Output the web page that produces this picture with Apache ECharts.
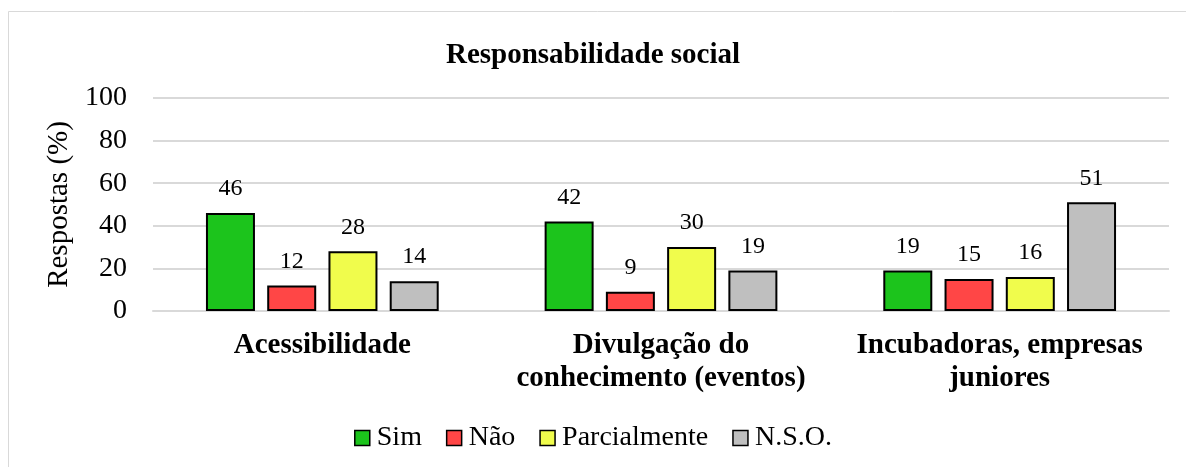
<!DOCTYPE html>
<html>
<head>
<meta charset="utf-8">
<script src="https://cdn.jsdelivr.net/npm/echarts@6/dist/echarts.min.js"></script>
<style>
  html, body { margin: 0; padding: 0; background: #fff; }
  #main { width: 1186px; height: 467px; }
</style>
</head>
<body>
<div id="main"></div>
<script>
var categories = ['Acessibilidade', 'Divulgação do\nconhecimento (eventos)', 'Incubadoras, empresas\njuniores'];
var seriesNames = ['Sim', 'Não', 'Parcialmente', 'N.S.O.'];
var sim = [46, 42, 19];
var nao = [12, 9, 15];
var parcial = [28, 30, 16];
var nso = [14, 19, 51];
var colors = ['#1cc41c', '#ff4646', '#f0fc4c', '#bfbfbf'];

var font = 'Liberation Serif, Times New Roman, serif';
var chart = echarts.init(document.getElementById('main'));

function bar(name, data, color) {
  return {
    name: name,
    type: 'bar',
    data: data,
    barWidth: 49,
    barGap: '25%',
    itemStyle: { color: color, borderColor: '#000', borderWidth: 2 },
    label: {
      show: true,
      position: 'top',
      distance: 12,
      color: '#000',
      fontFamily: font,
      fontSize: 24
    }
  };
}

var option = {
  animation: false,
  backgroundColor: '#fff',
  graphic: [{
    type: 'rect',
    shape: { x: 8.5, y: 11.5, width: 1200, height: 480 },
    style: { fill: 'none', stroke: '#d9d9d9', lineWidth: 1 }
  }],
  title: {
    text: 'Responsabilidade social',
    left: 'center',
    top: 36,
    textStyle: { fontFamily: font, fontSize: 29, fontWeight: 'bold', color: '#000' }
  },
  legend: {
    bottom: 10,
    left: 'center',
    itemWidth: 15,
    itemHeight: 15,
    itemGap: 24,
    icon: 'rect',
    textStyle: { fontFamily: font, fontSize: 28, color: '#000', padding: [0, 0, 0, 2] },
    itemStyle: { borderColor: '#000', borderWidth: 1.5 },
    data: seriesNames
  },
  grid: { left: 153, right: 17, top: 98, bottom: 156, containLabel: false },
  xAxis: {
    type: 'category',
    data: categories,
    axisTick: { show: false },
    axisLine: { lineStyle: { color: '#d9d9d9', width: 2 } },
    axisLabel: {
      interval: 0,
      margin: 18,
      color: '#000',
      fontFamily: font,
      fontSize: 29,
      fontWeight: 'bold',
      lineHeight: 33
    }
  },
  yAxis: {
    type: 'value',
    min: 0,
    max: 100,
    interval: 20,
    name: 'Respostas (%)',
    nameLocation: 'middle',
    nameGap: 70,
    nameTextStyle: { fontFamily: font, fontSize: 29, color: '#000' },
    axisLine: { show: false },
    axisTick: { show: false },
    splitLine: { lineStyle: { color: '#d9d9d9', width: 2 } },
    axisLabel: { color: '#000', fontFamily: font, fontSize: 28, margin: 26 }
  },
  series: [
    bar(seriesNames[0], sim, colors[0]),
    bar(seriesNames[1], nao, colors[1]),
    bar(seriesNames[2], parcial, colors[2]),
    bar(seriesNames[3], nso, colors[3])
  ]
};

chart.setOption(option);
</script>
</body>
</html>
